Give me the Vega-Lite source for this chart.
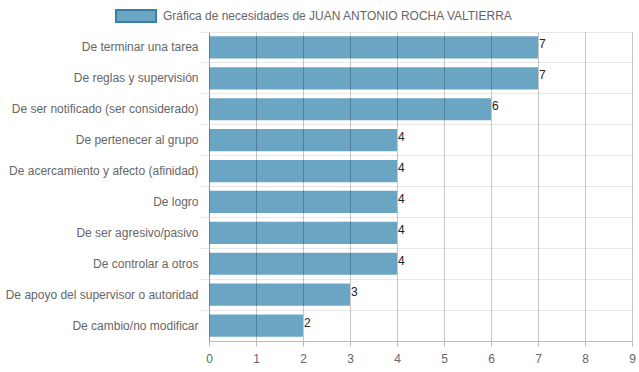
{
  "$schema": "https://vega.github.io/schema/vega-lite/v6.json",
  "width": 423,
  "height": 309,
  "autosize": {"type": "none"},
  "padding": {"left": 209, "top": 32, "right": 7, "bottom": 31},
  "background": "white",
  "config": {
    "view": {"stroke": null},
    "font": "Liberation Sans",
    "axis": {"labelFont": "Liberation Sans", "labelFontSize": 12, "labelColor": "#666666"}
  },
  "data": {
    "values": [
      {"cat": "De terminar una tarea", "val": 7, "serie": "Gráfica de necesidades de JUAN ANTONIO ROCHA VALTIERRA"},
      {"cat": "De reglas y supervisión", "val": 7, "serie": "Gráfica de necesidades de JUAN ANTONIO ROCHA VALTIERRA"},
      {"cat": "De ser notificado (ser considerado)", "val": 6, "serie": "Gráfica de necesidades de JUAN ANTONIO ROCHA VALTIERRA"},
      {"cat": "De pertenecer al grupo", "val": 4, "serie": "Gráfica de necesidades de JUAN ANTONIO ROCHA VALTIERRA"},
      {"cat": "De acercamiento y afecto (afinidad)", "val": 4, "serie": "Gráfica de necesidades de JUAN ANTONIO ROCHA VALTIERRA"},
      {"cat": "De logro", "val": 4, "serie": "Gráfica de necesidades de JUAN ANTONIO ROCHA VALTIERRA"},
      {"cat": "De ser agresivo/pasivo", "val": 4, "serie": "Gráfica de necesidades de JUAN ANTONIO ROCHA VALTIERRA"},
      {"cat": "De controlar a otros", "val": 4, "serie": "Gráfica de necesidades de JUAN ANTONIO ROCHA VALTIERRA"},
      {"cat": "De apoyo del supervisor o autoridad", "val": 3, "serie": "Gráfica de necesidades de JUAN ANTONIO ROCHA VALTIERRA"},
      {"cat": "De cambio/no modificar", "val": 2, "serie": "Gráfica de necesidades de JUAN ANTONIO ROCHA VALTIERRA"}
    ]
  },
  "resolve": {"axis": {"y": "independent"}},
  "layer": [
    {
      "mark": {"type": "bar", "height": {"band": 0.72}},
      "encoding": {
        "y": {
          "field": "cat", "type": "nominal", "sort": null,
          "scale": {"paddingInner": 0, "paddingOuter": 0},
          "axis": {"orient": "left", "title": null, "grid": false, "ticks": false, "domain": true, "domainColor": "#bbbbbb", "labelPadding": 11, "labelLimit": 300}
        },
        "x": {
          "field": "val", "type": "quantitative",
          "scale": {"domain": [0, 9], "nice": false},
          "axis": {"title": null, "values": [0,1,2,3,4,5,6,7,8,9], "labelFlush": false, "grid": true, "gridColor": "#000000", "gridOpacity": 0.22, "domainColor": "#bbbbbb", "tickColor": "#bbbbbb", "tickSize": 5, "labelPadding": 7, "zindex": 1}
        },
        "color": {
          "field": "serie", "type": "nominal",
          "scale": {"range": ["#6ba5c4"]},
          "legend": {
            "title": null, "orient": "none", "legendX": -94, "legendY": -37,
            "symbolType": "M-1,-0.3L1,-0.3L1,0.3L-1,0.3Z", "symbolSize": 1600,
            "symbolStrokeColor": "#3b7fa8", "symbolStrokeWidth": 2, "symbolOpacity": 1,
            "labelFontSize": 12, "labelColor": "#666666", "labelFont": "Liberation Sans", "labelOffset": 6, "labelLimit": 500
          }
        }
      }
    },
    {
      "mark": {"type": "text", "align": "left", "baseline": "middle", "dx": 1, "dy": -3, "fontSize": 12, "color": "#222222", "font": "Liberation Sans"},
      "encoding": {
        "y": {
          "field": "cat", "type": "nominal", "sort": null,
          "axis": {"orient": "left", "title": null, "bandPosition": 0, "labels": false, "domain": false, "grid": true, "gridColor": "#e8e8e8", "ticks": true, "tickColor": "#e8e8e8", "tickSize": 9}
        },
        "x": {"field": "val", "type": "quantitative"},
        "text": {"field": "val", "type": "quantitative"}
      }
    }
  ]
}
